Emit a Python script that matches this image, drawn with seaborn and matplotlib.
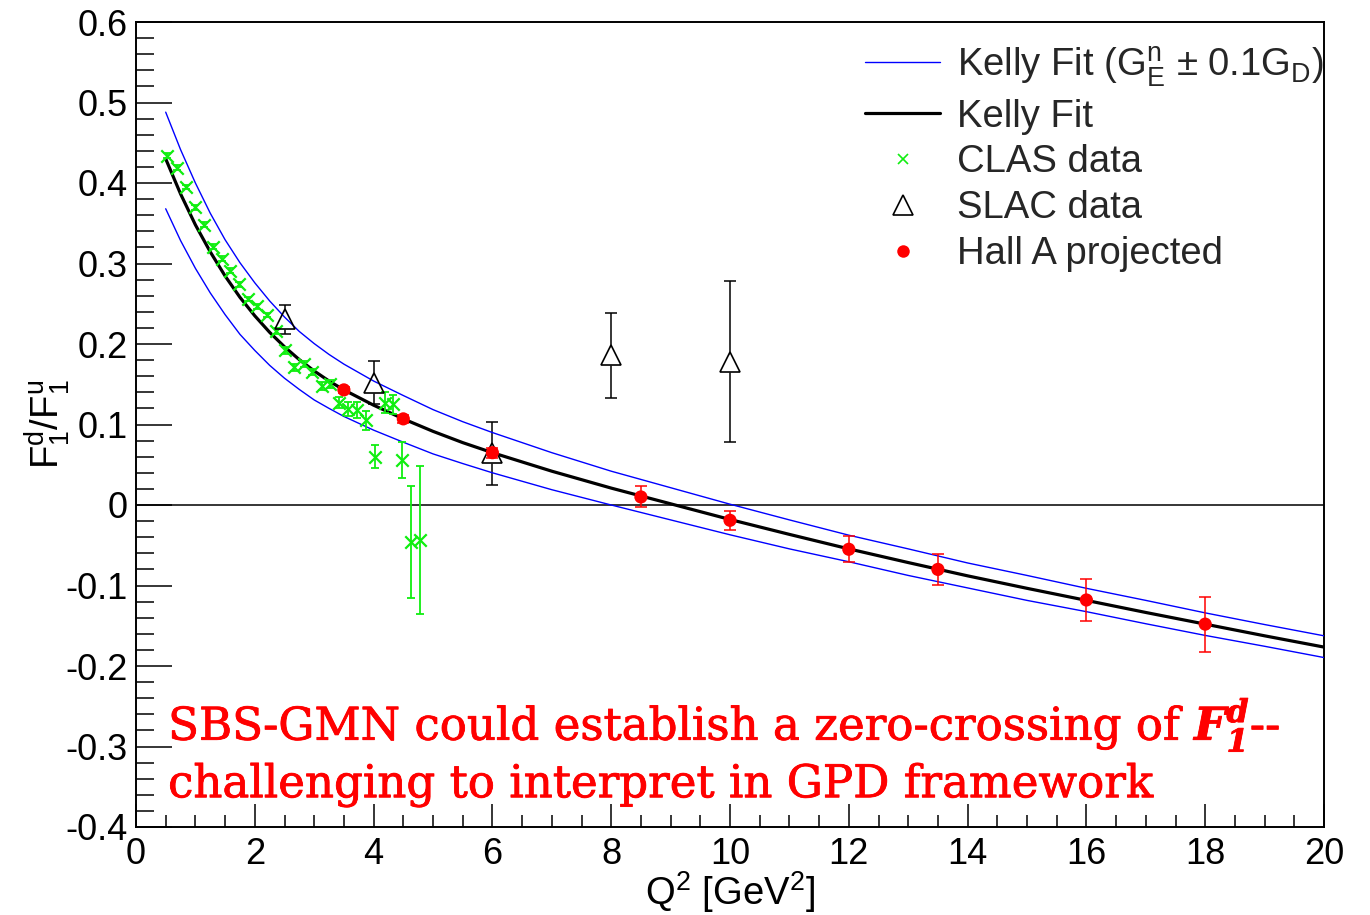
import matplotlib
matplotlib.use("Agg")
import matplotlib.pyplot as plt
import matplotlib.patheffects as pe
from matplotlib.lines import Line2D
from matplotlib.ticker import MultipleLocator, FuncFormatter
import seaborn as sns

# Kelly-fit curves for F1^d/F1^u (central, and with G_E^n shifted by +/-0.1 G_D)
fit_q2 = [0.5, 0.75, 1.0, 1.25, 1.5, 1.75, 2.0, 2.25, 2.5, 2.75, 3.0, 3.25, 3.5,
          4.0, 4.5, 5.0, 5.5, 6.0, 7.0, 8.0, 9.0, 10.0, 11.0, 12.0, 13.0, 14.0,
          15.0, 16.0, 17.0, 18.0, 19.0, 20.0]
fit_central = [0.430, 0.3865, 0.348, 0.3145, 0.2845, 0.258, 0.235, 0.2145, 0.1965,
               0.1805, 0.1665, 0.154, 0.143, 0.124, 0.107, 0.0915, 0.0775, 0.065,
               0.042, 0.021, 0.0015, -0.018, -0.0365, -0.0545, -0.0715, -0.088,
               -0.1035, -0.1185, -0.1335, -0.148, -0.1625, -0.1765]
fit_upper = [0.488, 0.4415, 0.400, 0.3625, 0.3295, 0.301, 0.276, 0.2535, 0.2335,
             0.2155, 0.2005, 0.187, 0.175, 0.154, 0.136, 0.1185, 0.1035, 0.090,
             0.065, 0.042, 0.0215, 0.001, -0.0185, -0.0375, -0.0545, -0.072,
             -0.0875, -0.1035, -0.1185, -0.134, -0.1485, -0.1625]
fit_lower = [0.368, 0.3285, 0.294, 0.2635, 0.2365, 0.212, 0.192, 0.1735, 0.1575,
             0.1435, 0.1305, 0.120, 0.110, 0.093, 0.078, 0.0635, 0.0515, 0.040,
             0.019, 0.000, -0.0185, -0.037, -0.0545, -0.0705, -0.0875, -0.103,
             -0.1185, -0.1325, -0.1475, -0.162, -0.1755, -0.1895]

# CLAS measurements
clas_q2 = [0.53, 0.685, 0.835, 0.99, 1.145, 1.29, 1.44, 1.59, 1.74, 1.89, 2.04,
           2.20, 2.35, 2.50, 2.66, 2.82, 2.96, 3.13, 3.27, 3.41, 3.57, 3.72, 3.87,
           4.02, 4.19, 4.33, 4.48, 4.63, 4.78]
clas_ratio = [0.434, 0.419, 0.395, 0.370, 0.348, 0.321, 0.306, 0.291, 0.274, 0.256,
              0.247, 0.236, 0.216, 0.192, 0.171, 0.175, 0.165, 0.148, 0.150, 0.127,
              0.119, 0.118, 0.105, 0.060, 0.127, 0.125, 0.056, -0.046, -0.044]
clas_err = [0.003, 0.003, 0.003, 0.003, 0.003, 0.003, 0.003, 0.003, 0.003, 0.003,
            0.003, 0.003, 0.004, 0.004, 0.004, 0.004, 0.004, 0.005, 0.005, 0.007,
            0.009, 0.010, 0.012, 0.014, 0.013, 0.012, 0.022, 0.069, 0.092]

# SLAC measurements
slac_q2 = [2.5, 4.0, 6.0, 8.0, 10.0]
slac_ratio = [0.231, 0.152, 0.064, 0.186, 0.178]
slac_err = [0.018, 0.027, 0.039, 0.053, 0.100]

# Hall A projected points
halla_q2 = [3.5, 4.5, 6.0, 8.5, 10.0, 12.0, 13.5, 16.0, 18.0]
halla_ratio = [0.143, 0.107, 0.065, 0.010, -0.019, -0.055, -0.080, -0.118, -0.148]
halla_err = [0.004, 0.005, 0.006, 0.013, 0.012, 0.016, 0.019, 0.026, 0.034]

legend_labels = [r"Kelly Fit (G$_{\rm E}^{\rm n}$ $\pm$ 0.1G$_{\rm D}$)", "Kelly Fit",
                 "CLAS data", "SLAC data", "Hall A projected"]

sns.set_theme(style="white")
plt.rcParams["font.family"] = ["Liberation Sans", "DejaVu Sans"]
plt.rcParams["mathtext.fontset"] = "custom"
plt.rcParams["mathtext.rm"] = "Liberation Sans"
plt.rcParams["mathtext.it"] = "Liberation Sans"
plt.rcParams["mathtext.bf"] = "DejaVu Serif:italic:bold"
plt.rcParams["axes.unicode_minus"] = False

GREEN = "#10ee10"
TICK_FS = 26
LABEL_FS = 27.5

fig = plt.figure(figsize=(13.7, 9.15), dpi=100)
ax = fig.add_axes([136 / 1370, 1 - 827 / 915, 1188 / 1370, 805 / 915])

# fit curves
sns.lineplot(x=fit_q2, y=fit_upper, color="blue", lw=1.0, ax=ax, sort=False,
             estimator=None, zorder=3)
sns.lineplot(x=fit_q2, y=fit_lower, color="blue", lw=1.0, ax=ax, sort=False,
             estimator=None, zorder=3)
sns.lineplot(x=fit_q2, y=fit_central, color="black", lw=2.3, ax=ax, sort=False,
             estimator=None, zorder=3)

# zero line
ax.axhline(0, color="black", lw=1.1, zorder=1)

# CLAS points
ax.errorbar(clas_q2, clas_ratio, yerr=clas_err, fmt="none", ecolor=GREEN,
            elinewidth=1.3, capsize=3.2, capthick=1.3, zorder=4)
sns.scatterplot(x=clas_q2, y=clas_ratio, marker="x", color=GREEN, s=80,
                linewidth=1.6, ax=ax, zorder=4)

# SLAC points: bars hidden inside the open triangle
ax.errorbar(slac_q2, slac_ratio, yerr=slac_err, fmt="none", ecolor="black",
            elinewidth=1.1, capsize=4.5, capthick=1.1, zorder=2)
ax.plot(slac_q2, slac_ratio, ls="none", marker="^", ms=14, mfc="white",
        mec="none", zorder=2.5)
ax.plot(slac_q2, slac_ratio, ls="none", marker="^", ms=14, mfc="none",
        mec="black", mew=1.2, zorder=5)

# Hall A projections
ax.errorbar(halla_q2, halla_ratio, yerr=halla_err, fmt="none", ecolor="red",
            elinewidth=1.1, capsize=4.0, capthick=1.1, zorder=5)
sns.scatterplot(x=halla_q2, y=halla_ratio, marker="o", color="red", s=90,
                edgecolor="none", ax=ax, zorder=6)

ax.set_xlim(0, 20)
ax.set_ylim(-0.4, 0.6)
ax.xaxis.set_major_locator(MultipleLocator(2))
ax.xaxis.set_minor_locator(MultipleLocator(0.5))
ax.yaxis.set_major_locator(MultipleLocator(0.1))
ax.yaxis.set_minor_locator(MultipleLocator(0.02))
ax.xaxis.set_major_formatter(FuncFormatter(lambda v, p: f"{v:g}"))
ax.yaxis.set_major_formatter(FuncFormatter(lambda v, p: "0" if abs(v) < 1e-9 else f"{v:.1f}"))
ax.tick_params(axis="both", which="both", direction="in", bottom=True, left=True,
               top=False, right=False, width=1.1, color="black",
               labelsize=TICK_FS, labelcolor="black")
ax.tick_params(axis="x", which="major", length=16.5, pad=7)
ax.tick_params(axis="x", which="minor", length=8.6)
ax.tick_params(axis="y", which="major", length=26, pad=6)
ax.tick_params(axis="y", which="minor", length=13)
for sp in ax.spines.values():
    sp.set_visible(True)
    sp.set_color("black")
    sp.set_linewidth(1.4)

ax.set_xlabel(r"Q$^{2}$ [GeV$^{2}$]", fontsize=LABEL_FS, color="black")
ax.set_ylabel(r"F$_{1}^{\rm d}$/F$_{1}^{\rm u}$", fontsize=LABEL_FS, color="black")
ax.xaxis.set_label_coords(0.5, -0.052)
ax.yaxis.set_label_coords(-0.054, 0.5)

handles = [
    Line2D([], [], color="blue", lw=1.0),
    Line2D([], [], color="black", lw=2.3),
    Line2D([], [], ls="none", marker="x", color=GREEN, ms=7, mew=1.2),
    Line2D([], [], ls="none", marker="^", mfc="none", mec="black", ms=14, mew=1.2),
    Line2D([], [], ls="none", marker="o", color="red", mec="none", ms=9),
]
ax.legend(handles, legend_labels, loc="upper left", bbox_to_anchor=(0.6136, 0.9725),
          frameon=False, fontsize=LABEL_FS, handlelength=1.97, handletextpad=0.45,
          labelspacing=0.26, borderpad=0, borderaxespad=0)

# statement in red
stroke = [pe.withStroke(linewidth=0.6, foreground="red")]
ax.text(0.027, 0.108, r"SBS-GMN could establish a zero-crossing of $\mathbf{F}_{\mathbf{1}}^{\mathbf{d}}$--",
        transform=ax.transAxes, color="red", fontsize=32.5, family="DejaVu Serif",
        va="baseline", ha="left", zorder=7, path_effects=stroke)
ax.text(0.027, 0.037, "challenging to interpret in GPD framework",
        transform=ax.transAxes, color="red", fontsize=32.5, family="DejaVu Serif",
        va="baseline", ha="left", zorder=7, path_effects=stroke)

fig.savefig("out.png", dpi=100, facecolor="white")
